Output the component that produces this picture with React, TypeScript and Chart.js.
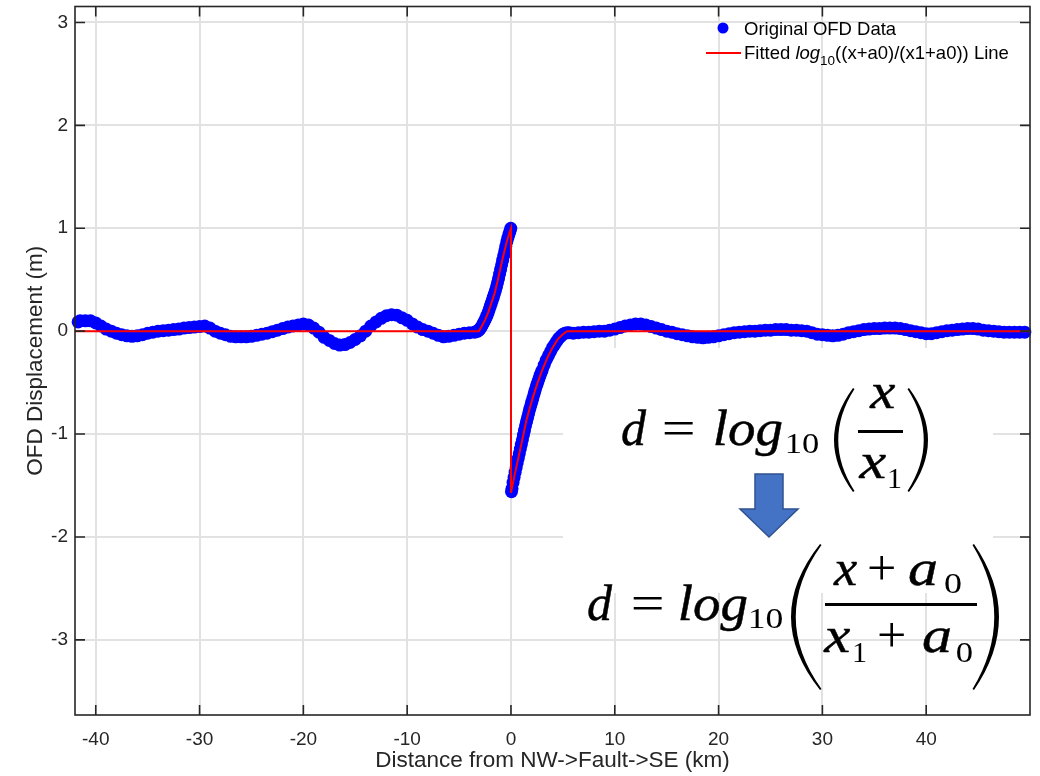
import React, { useEffect, useRef } from 'react';
import { Chart, registerables } from 'chart.js';

Chart.register(...registerables);

const SANS = '"Liberation Sans", Arial, Helvetica, sans-serif';
const SERIF = '"Liberation Serif", "DejaVu Serif", serif';

// Axis limits and tick positions
const X_MIN = -42;
const X_MAX = 50;
const Y_MIN = -3.73;
const Y_MAX = 3.155;
const xTickValues = [-40, -30, -20, -10, 0, 10, 20, 30, 40];
const yTickValues = [-3, -2, -1, 0, 1, 2, 3];

// Observed OFD profile, NW side of the fault (km, m)
const westKm = [
  -41.7, -41.5, -41, -40.5, -40, -39.5, -39, -38.5, -38, -37.5,
  -37, -36.5, -36, -35.5, -35, -34.5, -34, -33.5, -33, -32.5,
  -32, -31.5, -31, -30.5, -30, -29.5, -29, -28.5, -28, -27.5,
  -27, -26.5, -26, -25.5, -25, -24.5, -24, -23.5, -23, -22.5,
  -22, -21.5, -21, -20.5, -20, -19.5, -19, -18.5, -18, -17.5,
  -17, -16.5, -16, -15.5, -15, -14.5, -14, -13.5, -13, -12.5,
  -12, -11.5, -11, -10.5, -10, -9.5, -9, -8.5, -8, -7.5,
  -7, -6.5, -6, -5.5, -5, -4.5, -4, -3.5,
];
const westM = [
  0.09, 0.1, 0.1, 0.1, 0.08, 0.05, 0.02, 0.0, -0.02, -0.035,
  -0.045, -0.05, -0.045, -0.035, -0.02, -0.01, 0.0, 0.005, 0.01, 0.015,
  0.02, 0.03, 0.035, 0.04, 0.045, 0.05, 0.03, 0.0, -0.02, -0.035,
  -0.05, -0.055, -0.055, -0.055, -0.05, -0.04, -0.03, -0.02, -0.005, 0.01,
  0.025, 0.04, 0.05, 0.06, 0.07, 0.06, 0.03, -0.01, -0.06, -0.09,
  -0.12, -0.135, -0.13, -0.11, -0.08, -0.045, 0.0, 0.05, 0.09, 0.125,
  0.15, 0.16, 0.155, 0.13, 0.105, 0.07, 0.04, 0.015, 0.0, -0.02,
  -0.04, -0.055, -0.05, -0.04, -0.03, -0.02, -0.015, -0.01,
];

// Observed profile approaching the fault trace from the NW
const riseKm = [
  -3.3, -3.2, -3.1, -3.0, -2.9, -2.8, -2.7, -2.6, -2.5, -2.4,
  -2.3, -2.2, -2.1, -2.0, -1.9, -1.8, -1.7, -1.6, -1.5, -1.4,
  -1.3, -1.2, -1.1, -1.0, -0.9, -0.8, -0.7, -0.6, -0.5, -0.4,
  -0.3, -0.2, -0.1, -0.02,
];
const riseM = [
  0.0, 0.0, 0.01, 0.02, 0.035, 0.05, 0.07, 0.09, 0.11, 0.13,
  0.155, 0.18, 0.21, 0.24, 0.27, 0.3, 0.33, 0.36, 0.395, 0.43,
  0.47, 0.51, 0.555, 0.6, 0.645, 0.69, 0.735, 0.78, 0.825, 0.87,
  0.905, 0.94, 0.97, 1.0,
];

// Observed profile leaving the fault trace towards the SE
const recoverKm = [
  0.05, 0.1, 0.2, 0.3, 0.4, 0.5, 0.6, 0.7, 0.8, 0.9,
  1.0, 1.1, 1.2, 1.3, 1.4, 1.5, 1.6, 1.7, 1.8, 1.9,
  2.0, 2.1, 2.2, 2.3, 2.4, 2.5, 2.6, 2.7, 2.8, 2.9,
  3.0, 3.2, 3.4, 3.6, 3.8, 4.0, 4.2, 4.4, 4.6, 4.8,
  5.0, 5.2, 5.4, 5.6,
];
const recoverM = [
  -1.56, -1.53, -1.47, -1.42, -1.37, -1.325, -1.28, -1.235, -1.19, -1.145,
  -1.1, -1.055, -1.01, -0.965, -0.92, -0.88, -0.84, -0.8, -0.76, -0.725,
  -0.69, -0.655, -0.62, -0.585, -0.55, -0.52, -0.49, -0.46, -0.43, -0.405,
  -0.38, -0.33, -0.28, -0.24, -0.2, -0.16, -0.13, -0.1, -0.07, -0.05,
  -0.03, -0.02, -0.015, -0.015,
];

// Observed profile, SE side of the fault
const eastKm = [
  6, 6.5, 7, 7.5, 8, 8.5, 9, 9.5, 10, 10.5,
  11, 11.5, 12, 12.5, 13, 13.5, 14, 14.5, 15, 15.5,
  16, 16.5, 17, 17.5, 18, 18.5, 19, 19.5, 20, 20.5,
  21, 21.5, 22, 22.5, 23, 23.5, 24, 24.5, 25, 25.5,
  26, 26.5, 27, 27.5, 28, 28.5, 29, 29.5, 30, 30.5,
  31, 31.5, 32, 32.5, 33, 33.5, 34, 34.5, 35, 35.5,
  36, 36.5, 37, 37.5, 38, 38.5, 39, 39.5, 40, 40.5,
  41, 41.5, 42, 42.5, 43, 43.5, 44, 44.5, 45, 45.5,
  46, 46.5, 47, 47.5, 48, 48.5, 49, 49.5,
];
const eastM = [
  -0.02, -0.015, -0.01, -0.01, -0.005, 0.0, 0.0, 0.01, 0.02, 0.035,
  0.05, 0.06, 0.07, 0.07, 0.06, 0.045, 0.03, 0.015, 0.0, -0.01,
  -0.025, -0.035, -0.045, -0.055, -0.06, -0.065, -0.06, -0.055, -0.045, -0.035,
  -0.025, -0.015, -0.01, -0.005, 0.0, 0.0, 0.005, 0.01, 0.01, 0.015,
  0.015, 0.015, 0.01, 0.01, 0.005, 0.0, -0.015, -0.03, -0.035, -0.04,
  -0.045, -0.04, -0.03, -0.015, -0.005, 0.005, 0.015, 0.02, 0.025, 0.025,
  0.03, 0.03, 0.03, 0.025, 0.015, 0.005, -0.005, -0.015, -0.025, -0.025,
  -0.015, -0.005, 0.005, 0.01, 0.015, 0.02, 0.025, 0.025, 0.02, 0.01,
  0.005, 0.0, -0.005, -0.01, -0.01, -0.01, -0.01, -0.01,
];

// Fitted log10((x+a0)/(x1+a0)) curve, with the jump at the fault trace
const fitKm = [-42, -3.1, -2.8, -2.5, -2.2, -1.9, -1.6, -1.3, -1.0, -0.7, -0.4, -0.2, 0, 0, 0.2, 0.5, 0.8, 1.1, 1.5, 2.0, 2.5, 3.0, 3.5, 4.0, 4.5, 5.0, 5.4, 50];
const fitM = [0, 0, 0.05, 0.11, 0.18, 0.27, 0.36, 0.48, 0.62, 0.75, 0.87, 0.94, 1.0, -1.57, -1.47, -1.33, -1.19, -1.05, -0.86, -0.68, -0.52, -0.38, -0.26, -0.16, -0.08, -0.03, 0, 0];

const pairs = (xs: number[], ys: number[]) => xs.map((x, i) => ({ x, y: ys[i] }));

const observed = [
  ...pairs(westKm, westM),
  ...pairs(riseKm, riseM),
  ...pairs(recoverKm, recoverM),
  ...pairs(eastKm, eastM),
];
const fitted = pairs(fitKm, fitM);

// Crescent-shaped tall bracket; dir = -1 for "(", +1 for ")"
function bracket(ctx: CanvasRenderingContext2D, xEnd: number, top: number, bottom: number, bulge: number, thick: number, dir: number) {
  const mid = (top + bottom) / 2;
  ctx.beginPath();
  ctx.moveTo(xEnd, top);
  ctx.quadraticCurveTo(xEnd + dir * 2 * bulge, mid, xEnd, bottom);
  ctx.lineTo(xEnd - dir * 1.5, bottom - 1);
  ctx.quadraticCurveTo(xEnd + dir * (2 * bulge - 2 * thick), mid, xEnd - dir * 1.5, top + 1);
  ctx.closePath();
  ctx.fill();
}

// Math glyph run centred in [left, right], widened slightly towards that span
function glyph(ctx: CanvasRenderingContext2D, text: string, left: number, right: number, baseline: number, size: number, italic: boolean) {
  ctx.font = `${italic ? 'italic ' : ''}${size}px ${SERIF}`;
  ctx.textAlign = 'left';
  ctx.textBaseline = 'alphabetic';
  const m = ctx.measureText(text);
  const inkLeft = -m.actualBoundingBoxLeft;
  const inkWidth = m.actualBoundingBoxRight + m.actualBoundingBoxLeft || m.width;
  const span = right - left;
  const sx = Math.min(1.2, Math.max(0.85, span / inkWidth));
  const start = left + (span - inkWidth * sx) / 2;
  ctx.save();
  ctx.translate(start, baseline);
  ctx.scale(sx, 1);
  ctx.fillText(text, -inkLeft, 0);
  if (italic) {
    ctx.lineWidth = 0.45;
    ctx.strokeText(text, -inkLeft, 0);
  }
  ctx.restore();
}

const formulaPanel = {
  id: 'formulaPanel',
  afterDatasetsDraw(chart: Chart) {
    const ctx = chart.ctx;
    ctx.save();
    ctx.fillStyle = '#ffffff';
    ctx.fillRect(563, 348, 430, 245);
    ctx.fillStyle = '#000000';
    ctx.strokeStyle = '#000000';

    // d = log10(x / x1)
    glyph(ctx, 'd', 622, 647, 445, 50, true);
    glyph(ctx, '=', 660, 697, 445, 50, false);
    glyph(ctx, 'log', 715, 782, 445, 50, true);
    glyph(ctx, '10', 787, 818, 453, 30, false);
    bracket(ctx, 853, 388, 492, 19, 3.5, -1);
    glyph(ctx, 'x', 869, 895, 408, 50, true);
    ctx.fillRect(858, 430, 45, 3);
    glyph(ctx, 'x', 858, 886, 478, 50, true);
    glyph(ctx, '1', 889, 901, 488, 30, false);
    bracket(ctx, 909, 388, 492, 19, 3.5, 1);

    // arrow
    ctx.beginPath();
    ctx.moveTo(755, 474);
    ctx.lineTo(783, 474);
    ctx.lineTo(783, 509);
    ctx.lineTo(798, 509);
    ctx.lineTo(769, 537);
    ctx.lineTo(740, 509);
    ctx.lineTo(755, 509);
    ctx.closePath();
    ctx.fillStyle = '#4472c4';
    ctx.fill();
    ctx.strokeStyle = '#2f528f';
    ctx.lineWidth = 1.5;
    ctx.stroke();

    // d = log10((x + a0) / (x1 + a0))
    ctx.fillStyle = '#000000';
    ctx.strokeStyle = '#000000';
    glyph(ctx, 'd', 588, 613, 620, 50, true);
    glyph(ctx, '=', 630, 665, 620, 50, false);
    glyph(ctx, 'log', 680, 747, 620, 50, true);
    glyph(ctx, '10', 750, 782, 628, 30, false);
    bracket(ctx, 820, 544, 690, 29, 4, -1);
    glyph(ctx, 'x', 833, 857, 585, 50, true);
    glyph(ctx, '+', 869, 894, 585, 50, false);
    glyph(ctx, 'a', 908, 938, 585, 50, true);
    glyph(ctx, '0', 945, 961, 593, 30, false);
    ctx.fillRect(825, 603, 152, 3);
    glyph(ctx, 'x', 823, 850, 652, 50, true);
    glyph(ctx, '1', 854, 866, 662, 30, false);
    glyph(ctx, '+', 879, 904, 652, 50, false);
    glyph(ctx, 'a', 922, 952, 652, 50, true);
    glyph(ctx, '0', 957, 972, 662, 30, false);
    bracket(ctx, 974, 544, 690, 25, 4, 1);
    ctx.restore();
  },
};

const legendBox = {
  id: 'legendBox',
  afterDatasetsDraw(chart: Chart) {
    const ctx = chart.ctx;
    ctx.save();
    ctx.fillStyle = '#0000ff';
    ctx.beginPath();
    ctx.arc(723, 28, 5.5, 0, Math.PI * 2);
    ctx.fill();
    ctx.strokeStyle = '#ff0000';
    ctx.lineWidth = 2;
    ctx.beginPath();
    ctx.moveTo(706, 53);
    ctx.lineTo(741, 53);
    ctx.stroke();

    ctx.fillStyle = '#000000';
    ctx.textBaseline = 'alphabetic';
    ctx.textAlign = 'left';
    ctx.font = `18.5px ${SANS}`;
    ctx.fillText('Original OFD Data', 744, 35);
    let x = 744;
    const base = 59;
    ctx.fillText('Fitted ', x, base);
    x += ctx.measureText('Fitted ').width;
    ctx.font = `italic 18.5px ${SANS}`;
    ctx.fillText('log', x, base);
    x += ctx.measureText('log').width;
    ctx.font = `13.5px ${SANS}`;
    ctx.fillText('10', x, base + 6);
    x += ctx.measureText('10').width;
    ctx.font = `18.5px ${SANS}`;
    ctx.fillText('((x+a0)/(x1+a0)) Line', x, base);
    ctx.restore();
  },
};

const axesFrame = {
  id: 'axesFrame',
  afterDraw(chart: Chart) {
    const { ctx, chartArea: a } = chart;
    const sx = chart.scales.x;
    const sy = chart.scales.y;
    ctx.save();
    ctx.strokeStyle = '#262626';
    ctx.lineWidth = 1.6;
    ctx.beginPath();
    xTickValues.forEach((v) => {
      const px = sx.getPixelForValue(v);
      ctx.moveTo(px, a.bottom);
      ctx.lineTo(px, a.bottom - 10);
      ctx.moveTo(px, a.top);
      ctx.lineTo(px, a.top + 10);
    });
    yTickValues.forEach((v) => {
      const py = sy.getPixelForValue(v);
      ctx.moveTo(a.left, py);
      ctx.lineTo(a.left + 10, py);
      ctx.moveTo(a.right, py);
      ctx.lineTo(a.right - 10, py);
    });
    ctx.stroke();
    ctx.strokeRect(a.left, a.top, a.right - a.left, a.bottom - a.top);
    ctx.restore();
  },
};

export default function App() {
  const canvasRef = useRef<HTMLCanvasElement | null>(null);

  useEffect(() => {
    const canvas = canvasRef.current;
    if (!canvas) return;
    const chart = new Chart(canvas, {
      type: 'scatter',
      data: {
        datasets: [
          {
            label: 'Original OFD Data',
            data: observed,
            pointRadius: 6.5,
            pointBorderWidth: 0,
            pointBackgroundColor: '#0000ff',
            pointBorderColor: '#0000ff',
            showLine: false,
            clip: false,
            order: 1,
          },
          {
            label: 'Fitted line',
            data: fitted,
            showLine: true,
            borderColor: '#ff0000',
            borderWidth: 2,
            pointRadius: 0,
            tension: 0,
            order: 0,
          },
        ],
      },
      options: {
        animation: false,
        responsive: false,
        maintainAspectRatio: false,
        layout: { padding: { top: 6, right: 10, left: 0, bottom: 0 } },
        plugins: {
          legend: { display: false },
          tooltip: { enabled: false },
        },
        scales: {
          x: {
            type: 'linear',
            min: X_MIN,
            max: X_MAX,
            afterBuildTicks: (s: any) => {
              s.ticks = xTickValues.map((v) => ({ value: v }));
            },
            afterFit: (s: any) => {
              s.height = 61;
              s.paddingLeft = 0;
              s.paddingRight = 0;
            },
            grid: { color: '#e2e2e2', lineWidth: 2, drawTicks: false },
            border: { display: false },
            ticks: {
              font: { family: SANS, size: 19 },
              color: '#262626',
              padding: 13,
              maxRotation: 0,
              autoSkip: false,
            },
            title: {
              display: true,
              text: 'Distance from NW->Fault->SE (km)',
              font: { family: SANS, size: 22.5 },
              color: '#262626',
              padding: { top: 0, bottom: 1.5 },
            },
          },
          y: {
            type: 'linear',
            min: Y_MIN,
            max: Y_MAX,
            afterBuildTicks: (s: any) => {
              s.ticks = yTickValues.map((v) => ({ value: v }));
            },
            afterFit: (s: any) => {
              s.width = 75;
              s.paddingTop = 0;
              s.paddingBottom = 0;
            },
            grid: { color: '#e2e2e2', lineWidth: 2, drawTicks: false },
            border: { display: false },
            ticks: {
              font: { family: SANS, size: 19 },
              color: '#262626',
              padding: 7,
              autoSkip: false,
            },
            title: {
              display: true,
              text: 'OFD Displacement (m)',
              font: { family: SANS, size: 22.5 },
              color: '#262626',
              padding: { top: 22.5, bottom: 0 },
            },
          },
        },
      },
      plugins: [formulaPanel, legendBox, axesFrame],
    });
    return () => chart.destroy();
  }, []);

  return (
    <div style={{ position: 'fixed', left: 0, top: 0, width: 1040, height: 776, background: '#ffffff' }}>
      <canvas ref={canvasRef} width={1040} height={776} style={{ display: 'block', width: 1040, height: 776 }} />
    </div>
  );
}
